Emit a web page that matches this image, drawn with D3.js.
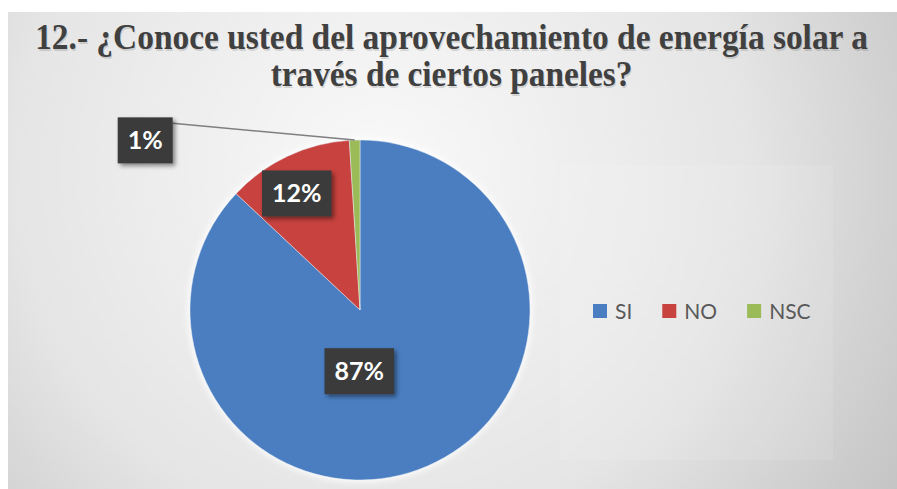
<!DOCTYPE html>
<html>
<head>
<meta charset="utf-8">
<script src="https://cdn.jsdelivr.net/npm/d3@7"></script>
<style>
  html, body { margin: 0; padding: 0; background: #ffffff; }
  svg { display: block; }
</style>
</head>
<body>
<svg id="chart" width="897" height="489"></svg>
<script>
// Survey answers for question 12
const categories = ["SI", "NO", "NSC"];
const values = [87, 12, 1];
const valueLabels = ["87%", "12%", "1%"];
const titleLines = [
  "12.- ¿Conoce usted del aprovechamiento de energía solar a",
  "través de ciertos paneles?"
];

const colors = d3.scaleOrdinal()
  .domain(categories)
  .range(["#4A7EC1", "#C8423F", "#9BBB59"]);

const W = 897, H = 489;
const svg = d3.select("#chart");
const defs = svg.append("defs");

// Light radial background of the chart area
const grad = defs.append("radialGradient")
  .attr("id", "bg")
  .attr("gradientUnits", "userSpaceOnUse")
  .attr("cx", 380).attr("cy", 170).attr("r", 610);
grad.append("stop").attr("offset", 0).attr("stop-color", "#f9f9f9");
grad.append("stop").attr("offset", 0.6).attr("stop-color", "#e5e5e5");
grad.append("stop").attr("offset", 1).attr("stop-color", "#c4c4c4");

const shadow = defs.append("filter").attr("id", "shadow")
  .attr("x", "-30%").attr("y", "-30%").attr("width", "160%").attr("height", "160%");
shadow.append("feDropShadow")
  .attr("dx", 2.5).attr("dy", 2.5).attr("stdDeviation", 2)
  .attr("flood-color", "#000").attr("flood-opacity", 0.45);

const glow = defs.append("filter").attr("id", "glow")
  .attr("x", "-20%").attr("y", "-20%").attr("width", "140%").attr("height", "140%");
glow.append("feGaussianBlur").attr("stdDeviation", 3);

svg.append("rect")
  .attr("x", 8).attr("y", 12)
  .attr("width", W - 8).attr("height", H - 12)
  .attr("fill", "url(#bg)");

// Title: condensed serif, each line squeezed horizontally to its set width
const titleWidths = [833, 362];
const titleG = svg.append("g")
  .attr("font-family", "'Liberation Serif', 'Times New Roman', serif")
  .attr("font-weight", "bold")
  .attr("font-size", 35)
  .attr("text-anchor", "middle");
[{ dx: 1, dy: 1.5, fill: "#000000", op: 0.12 }, { dx: 0, dy: 0, fill: "#404040", op: 1 }].forEach(s => {
  titleLines.forEach((line, i) => {
    const g = titleG.append("g");
    const t = g.append("text")
      .attr("x", 0).attr("y", 0)
      .attr("fill", s.fill)
      .attr("fill-opacity", s.op)
      .text(line);
    const sx = titleWidths[i] / t.node().getComputedTextLength();
    g.attr("transform", `translate(${451.5 + s.dx},${49 + i * 37 + s.dy}) scale(${sx},1)`);
  });
});

// Legend panel
svg.append("rect")
  .attr("x", 560).attr("y", 165)
  .attr("width", 273).attr("height", 295)
  .attr("fill", "#ffffff").attr("fill-opacity", 0.1);

// Pie
const cx = 360, cy = 310, R = 170;
const pie = d3.pie().sort(null).value(d => d.value);
const arcs = pie(categories.map((c, i) => ({ cat: c, value: values[i], label: valueLabels[i] })));
const arc = d3.arc().innerRadius(0).outerRadius(R);

const pieG = svg.append("g").attr("transform", `translate(${cx},${cy})`);

pieG.append("circle")
  .attr("r", R + 2)
  .attr("fill", "#ffffff")
  .attr("opacity", 0.9)
  .attr("filter", "url(#glow)");

pieG.selectAll("path.slice")
  .data(arcs)
  .join("path")
  .attr("class", "slice")
  .attr("d", arc)
  .attr("fill", d => colors(d.data.cat))
  .attr("stroke", "#e8eef6")
  .attr("stroke-opacity", 0.6)
  .attr("stroke-width", 0.8);

// Label placement: polar angle (degrees clockwise from 12 o'clock) and radius fraction
const placement = {
  SI:  { angle: 180.7, k: 0.36, leader: false },
  NO:  { angle: 331.5, k: 0.78, leader: false },
  NSC: { angle: 308.3, k: 1.61, leader: true }
};
const polar = (deg, rad) => {
  const a = deg * Math.PI / 180;
  return [rad * Math.sin(a), -rad * Math.cos(a)];
};

const labelG = pieG.append("g")
  .attr("font-family", "Lato, 'Open Sans', sans-serif")
  .attr("font-weight", "bold")
  .attr("font-size", 25);

arcs.forEach(d => {
  const p = placement[d.data.cat];
  const [lx, ly] = polar(p.angle, R * p.k);
  const g = labelG.append("g").attr("transform", `translate(${lx},${ly})`);
  const t = g.append("text")
    .attr("text-anchor", "middle")
    .attr("dy", "0.36em")
    .attr("fill", "#ffffff")
    .text(d.data.label);
  const tw = t.node().getComputedTextLength();
  const bw = tw + 20, bh = 46;
  g.insert("rect", "text")
    .attr("x", -bw / 2).attr("y", -bh / 2)
    .attr("width", bw).attr("height", bh)
    .attr("fill", "#3b3b3b")
    .attr("filter", "url(#shadow)");
  if (p.leader) {
    const mid = (d.startAngle + d.endAngle) / 2;
    const end = [R * Math.sin(mid), -R * Math.cos(mid)];
    labelG.insert("line", ":first-child")
      .attr("x1", lx + bw / 2).attr("y1", ly - bh / 2 + 6)
      .attr("x2", end[0]).attr("y2", end[1])
      .attr("stroke", "#7f7f7f")
      .attr("stroke-width", 1.5);
  }
});

// Legend
const legend = svg.append("g")
  .attr("font-family", "Lato, 'Open Sans', sans-serif")
  .attr("font-size", 21)
  .attr("fill", "#595959");
let lxPos = 593;
categories.forEach(c => {
  const item = legend.append("g").attr("transform", `translate(${lxPos},0)`);
  item.append("rect")
    .attr("x", 0).attr("y", 304)
    .attr("width", 14).attr("height", 14)
    .attr("fill", colors(c));
  const t = item.append("text")
    .attr("x", 22).attr("y", 319)
    .text(c);
  lxPos += 22 + t.node().getComputedTextLength() + 30;
});
</script>
</body>
</html>
